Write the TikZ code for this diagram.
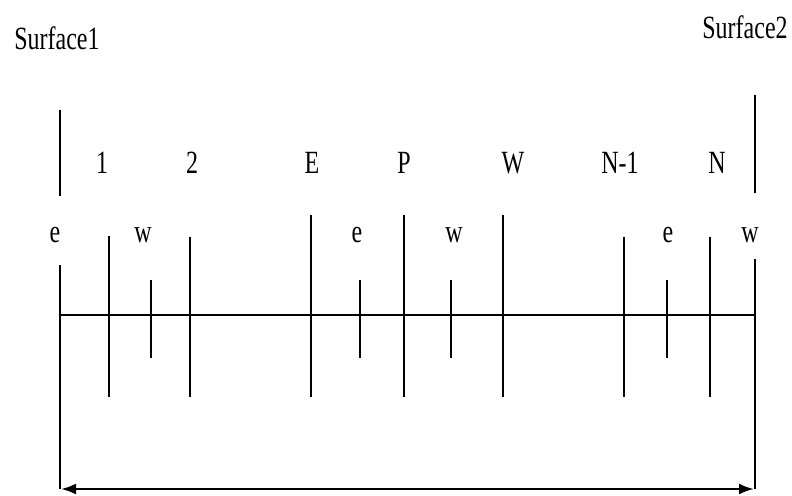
\documentclass[tikz,border=0pt]{standalone}
\usepackage{fontspec}
\setmainfont{Liberation Serif}
\usetikzlibrary{arrows.meta}
\begin{document}
\begin{tikzpicture}[x=1pt,y=-1pt,
  lbl/.style={inner sep=0pt, anchor=base, font=\fontsize{24}{24}\selectfont, yscale=1.35},
  wall/.style={line width=2pt},
  tall/.style={line width=2pt},
  face/.style={line width=2pt},
  axis/.style={line width=2.4pt},
  dim/.style={line width=2.4pt, {Latex[length=15pt,width=11pt]}-{Latex[length=15pt,width=11pt]}}]
\useasboundingbox (0,0) rectangle (792,495);
% surfaces
\coordinate (s1t) at (60,110); \coordinate (s1b) at (60,196);
\coordinate (s2t) at (755,95); \coordinate (s2b) at (755,193);
\coordinate (l1t) at (60,265); \coordinate (l1b) at (60,489);
\coordinate (l2t) at (755,259); \coordinate (l2b) at (755,489);
\draw[wall] (s1t) -- (s1b);
\draw[wall] (s2t) -- (s2b);
\draw[wall] (l1t) -- (l1b);
\draw[wall] (l2t) -- (l2b);
% main axis
\coordinate (ax1) at (60,315); \coordinate (ax2) at (755,315);
\draw[axis] (ax1) -- (ax2);
% grid points (tall lines)
\foreach \n/\x/\t in {g1/109/236, g2/190/237, gE/311/215, gP/404/215, gW/503/215, gN1/624/237, gN/710/237}{
  \coordinate (\n t) at (\x,\t); \coordinate (\n b) at (\x,397);
  \draw[tall] (\n t) -- (\n b);
}
% faces (short lines)
\foreach \n/\x in {f1/151, f2/360, f3/451, f4/667}{
  \coordinate (\n t) at (\x,280); \coordinate (\n b) at (\x,358);
  \draw[face] (\n t) -- (\n b);
}
% dimension arrow
\coordinate (d1) at (61,489); \coordinate (d2) at (754,489);
\draw[dim] (d1) -- (d2);
% labels
\node[lbl] (S1) at (57,50) {Surface1};
\node[lbl] (S2) at (745,38) {Surface2};
\node[lbl] (n1) at (102,173) {1};
\node[lbl] (n2) at (192,173) {2};
\node[lbl] (nE) at (312,173) {E};
\node[lbl] (nP) at (404,173) {P};
\node[lbl] (nW) at (513,173) {W};
\node[lbl] (nN1) at (620,173) {N-1};
\node[lbl] (nN) at (717,173) {N};
\node[lbl] (e1) at (55,242) {e};
\node[lbl] (w1) at (143,242) {w};
\node[lbl] (e2) at (357,242) {e};
\node[lbl] (w2) at (454,242) {w};
\node[lbl] (e3) at (668,242) {e};
\node[lbl] (w3) at (750,242) {w};
\end{tikzpicture}
\end{document}
